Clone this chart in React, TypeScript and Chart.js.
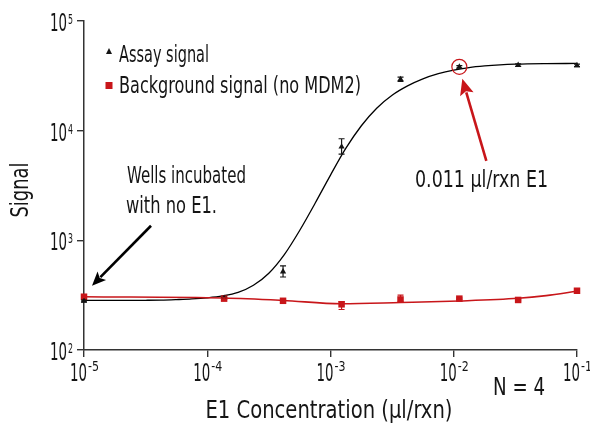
import React, { useEffect, useRef } from "react";
import { Chart, registerables } from "chart.js";

Chart.register(...registerables);

// ---- data ----
const concentrations = [1e-5, 1.37e-4, 4.12e-4, 1.23e-3, 3.7e-3, 1.11e-2, 3.33e-2, 1e-1];
const assaySignal = [280, 296, 518, 7130, 29400, 38200, 39600, 39400];
const assayErrLow = [275, 290, 463, 6120, 28100, 37200, 38500, 38400];
const assayErrHigh = [285, 302, 586, 8440, 30800, 39200, 40700, 40400];
const backgroundSignal = [306, 294, 281, 261, 289, 294, 286, 347];
const backgroundErrLow = [300, 289, 276, 234, 274, 289, 281, 341];
const backgroundErrHigh = [312, 299, 286, 276, 316, 299, 291, 353];

const assayFitConc = [
  1e-5, 3.16e-5, 4.22e-5, 5.62e-5, 7.5e-5, 1e-4, 1.33e-4, 1.78e-4, 2.37e-4, 3.16e-4, 4.22e-4,
  5.62e-4, 7.5e-4, 1e-3, 1.33e-3, 1.78e-3, 2.37e-3, 3.16e-3, 4.22e-3, 5.62e-3, 7.5e-3, 1e-2,
  1.33e-2, 1.78e-2, 2.37e-2, 3.16e-2, 5.62e-2, 1e-1,
];
const assayFitSignal = [
  283, 284, 285, 288, 292, 299, 311, 335, 389, 501, 741,
  1230, 2178, 3936, 6887, 11090, 16030, 21040, 25590, 29650, 33040, 35650,
  37580, 38900, 39810, 40360, 40830, 41020,
];
const backgroundFitConc = [1e-5, 1.37e-4, 4.12e-4, 1.23e-3, 3.7e-3, 1.11e-2, 3.33e-2, 5.62e-2, 1e-1];
const backgroundFitSignal = [306, 298, 283, 264, 271, 280, 296, 313, 343];

const xTickValues = [1e-5, 1e-4, 1e-3, 1e-2, 1e-1];
const xTickExponents = ["-5", "-4", "-3", "-2", "-1"];
const yTickValues = [1e2, 1e3, 1e4, 1e5];
const yTickExponents = ["2", "3", "4", "5"];

const legendLabels = ["Assay signal", "Background signal (no MDM2)"];
const xTitle = "E1 Concentration (\u00b5l/rxn)";
const yTitle = "Signal";
const noteLeft = ["Wells incubated", "with no E1."];
const noteRight = "0.011 \u00b5l/rxn E1";
const nLabel = "N = 4";

const RED = "#c8161a";
const INK = "#151515";
const AXIS = "#333333";

const fontOf = (size: number) =>
  `${size}px "Liberation Sans Narrow", "DejaVu Sans Condensed", "Liberation Sans", sans-serif`;

function fitText(
  ctx: CanvasRenderingContext2D,
  s: string,
  x: number,
  y: number,
  size: number,
  width: number,
  align: CanvasTextAlign = "left",
  color = INK,
  rotate = 0
) {
  ctx.save();
  ctx.font = fontOf(size);
  const w = ctx.measureText(s).width || 1;
  ctx.translate(x, y);
  if (rotate) ctx.rotate(rotate);
  ctx.scale(width / w, 1);
  ctx.textAlign = align;
  ctx.textBaseline = "alphabetic";
  ctx.fillStyle = color;
  ctx.fillText(s, 0, 0);
  ctx.restore();
}

function arrow(
  ctx: CanvasRenderingContext2D,
  x0: number,
  y0: number,
  x1: number,
  y1: number,
  color: string,
  lw: number,
  headLen: number,
  headHalf: number
) {
  const dx = x1 - x0;
  const dy = y1 - y0;
  const len = Math.hypot(dx, dy);
  const ux = dx / len;
  const uy = dy / len;
  const bx = x1 - ux * headLen;
  const by = y1 - uy * headLen;
  ctx.save();
  ctx.strokeStyle = color;
  ctx.fillStyle = color;
  ctx.lineWidth = lw;
  ctx.beginPath();
  ctx.moveTo(x0, y0);
  ctx.lineTo(bx + ux * 2, by + uy * 2);
  ctx.stroke();
  ctx.beginPath();
  ctx.moveTo(x1, y1);
  ctx.lineTo(bx - uy * headHalf, by + ux * headHalf);
  ctx.lineTo(bx + ux * 3, by + uy * 3);
  ctx.lineTo(bx + uy * headHalf, by - ux * headHalf);
  ctx.closePath();
  ctx.fill();
  ctx.restore();
}

const decorPlugin = {
  id: "decor",
  afterDatasetsDraw(chart: any) {
    const ctx: CanvasRenderingContext2D = chart.ctx;
    const xs = chart.scales.x;
    const ys = chart.scales.y;
    const bars = (lo: number[], hi: number[], color: string) => {
      ctx.save();
      ctx.strokeStyle = color;
      ctx.lineWidth = 1.2;
      concentrations.forEach((c, i) => {
        const x = xs.getPixelForValue(c);
        const y0 = ys.getPixelForValue(lo[i]);
        const y1 = ys.getPixelForValue(hi[i]);
        ctx.beginPath();
        ctx.moveTo(x, y0);
        ctx.lineTo(x, y1);
        ctx.moveTo(x - 3, y0);
        ctx.lineTo(x + 3, y0);
        ctx.moveTo(x - 3, y1);
        ctx.lineTo(x + 3, y1);
        ctx.stroke();
      });
      ctx.restore();
    };
    bars(assayErrLow, assayErrHigh, INK);
    bars(backgroundErrLow, backgroundErrHigh, RED);
  },
  afterDraw(chart: any) {
    const ctx: CanvasRenderingContext2D = chart.ctx;
    const xs = chart.scales.x;
    const ys = chart.scales.y;
    const area = chart.chartArea;

    // tick labels
    xTickValues.forEach((v, i) => {
      const x = xs.getPixelForValue(v);
      fitText(ctx, "10", x + 3, area.bottom + 31, 25, 17, "right");
      fitText(ctx, xTickExponents[i], x + 4, area.bottom + 21, 14, 11, "left");
    });
    yTickValues.forEach((v, i) => {
      const y = ys.getPixelForValue(v);
      fitText(ctx, "10", area.left - 17, y + 10, 25, 17, "right");
      fitText(ctx, yTickExponents[i], area.left - 16, y + 3, 14, 5, "left");
    });

    // axis titles
    fitText(ctx, xTitle, 329, 418, 24, 247, "center");
    fitText(ctx, yTitle, 28, 190, 24, 55, "center", INK, -Math.PI / 2);
    fitText(ctx, nLabel, 493, 395, 24, 52, "left");

    // legend
    const lx = area.left + 25;
    ctx.save();
    ctx.fillStyle = INK;
    ctx.beginPath();
    ctx.moveTo(lx, 48);
    ctx.lineTo(lx + 3, 54);
    ctx.lineTo(lx - 3, 54);
    ctx.closePath();
    ctx.fill();
    ctx.fillStyle = RED;
    ctx.fillRect(lx - 3.5, 82, 7, 7);
    ctx.restore();
    fitText(ctx, legendLabels[0], lx + 10, 62, 23, 90, "left");
    fitText(ctx, legendLabels[1], lx + 10, 93, 23, 242, "left");

    // left annotation
    fitText(ctx, noteLeft[0], 127, 183, 23, 119, "left");
    fitText(ctx, noteLeft[1], 126, 213, 23, 91, "left");
    const p0x = xs.getPixelForValue(concentrations[0]);
    const p0y = ys.getPixelForValue(backgroundSignal[0]);
    arrow(ctx, p0x + 67, p0y - 71, p0x + 8, p0y - 11, "#000", 2.6, 14, 6);

    // right annotation
    const cx = xs.getPixelForValue(concentrations[5]);
    const cy = ys.getPixelForValue(assaySignal[5]);
    ctx.save();
    ctx.strokeStyle = RED;
    ctx.lineWidth = 1.2;
    ctx.beginPath();
    ctx.arc(cx, cy, 7.5, 0, Math.PI * 2);
    ctx.stroke();
    ctx.restore();
    arrow(ctx, cx + 27, cy + 94, cx + 3, cy + 12, RED, 2.6, 16, 7);
    fitText(ctx, noteRight, 415, 187, 23, 133, "left");
  },
};

export default function App() {
  const ref = useRef<HTMLCanvasElement | null>(null);
  useEffect(() => {
    document.body.style.margin = "0";
    const canvas = ref.current!;
    const chart = new Chart(canvas, {
      type: "line",
      data: {
        datasets: [
          {
            label: legendLabels[0],
            data: concentrations.map((c, i) => ({ x: c, y: assaySignal[i] })),
            showLine: false,
            pointStyle: "triangle",
            pointRadius: 3.6,
            pointBackgroundColor: INK,
            pointBorderColor: INK,
            pointBorderWidth: 0,
            clip: false,
            order: 0,
          },
          {
            label: legendLabels[1],
            data: concentrations.map((c, i) => ({ x: c, y: backgroundSignal[i] })),
            showLine: false,
            pointStyle: "rect",
            pointRadius: 4.6,
            pointBackgroundColor: RED,
            pointBorderColor: RED,
            pointBorderWidth: 0,
            clip: false,
            order: 0,
          },
          {
            label: "bg fit",
            data: backgroundFitConc.map((c, i) => ({ x: c, y: backgroundFitSignal[i] })),
            borderColor: RED,
            borderWidth: 1.6,
            pointRadius: 0,
            cubicInterpolationMode: "monotone",
            fill: false,
            order: 1,
          },
          {
            label: "assay fit",
            data: assayFitConc.map((c, i) => ({ x: c, y: assayFitSignal[i] })),
            borderColor: "#000",
            borderWidth: 1.3,
            pointRadius: 0,
            cubicInterpolationMode: "monotone",
            fill: false,
            order: 2,
          },
        ],
      },
      options: {
        responsive: false,
        animation: false,
        devicePixelRatio: 1,
        layout: { padding: { left: 0, right: 13, top: 21, bottom: 0 } },
        plugins: { legend: { display: false }, tooltip: { enabled: false } },
        scales: {
          x: {
            type: "logarithmic",
            min: 1e-5,
            max: 1e-1,
            afterBuildTicks: (s: any) => {
              s.ticks = xTickValues.map((v) => ({ value: v }));
            },
            afterFit: (s: any) => {
              s.height = 79;
            },
            ticks: { display: false },
            grid: { drawOnChartArea: false, drawTicks: true, tickLength: 7, color: AXIS, lineWidth: 1.4 },
            border: { display: true, color: AXIS, width: 1.5 },
          },
          y: {
            type: "logarithmic",
            min: 1e2,
            max: 1e5,
            afterBuildTicks: (s: any) => {
              s.ticks = yTickValues.map((v) => ({ value: v }));
            },
            afterFit: (s: any) => {
              s.width = 84;
            },
            ticks: { display: false },
            grid: { drawOnChartArea: false, drawTicks: true, tickLength: 7, color: AXIS, lineWidth: 1.4 },
            border: { display: true, color: AXIS, width: 1.5 },
          },
        },
      } as any,
      plugins: [decorPlugin],
    });
    return () => chart.destroy();
  }, []);
  return (
    <canvas
      ref={ref}
      width={590}
      height={429}
      style={{ display: "block", width: 590, height: 429, background: "#fff" }}
    />
  );
}
